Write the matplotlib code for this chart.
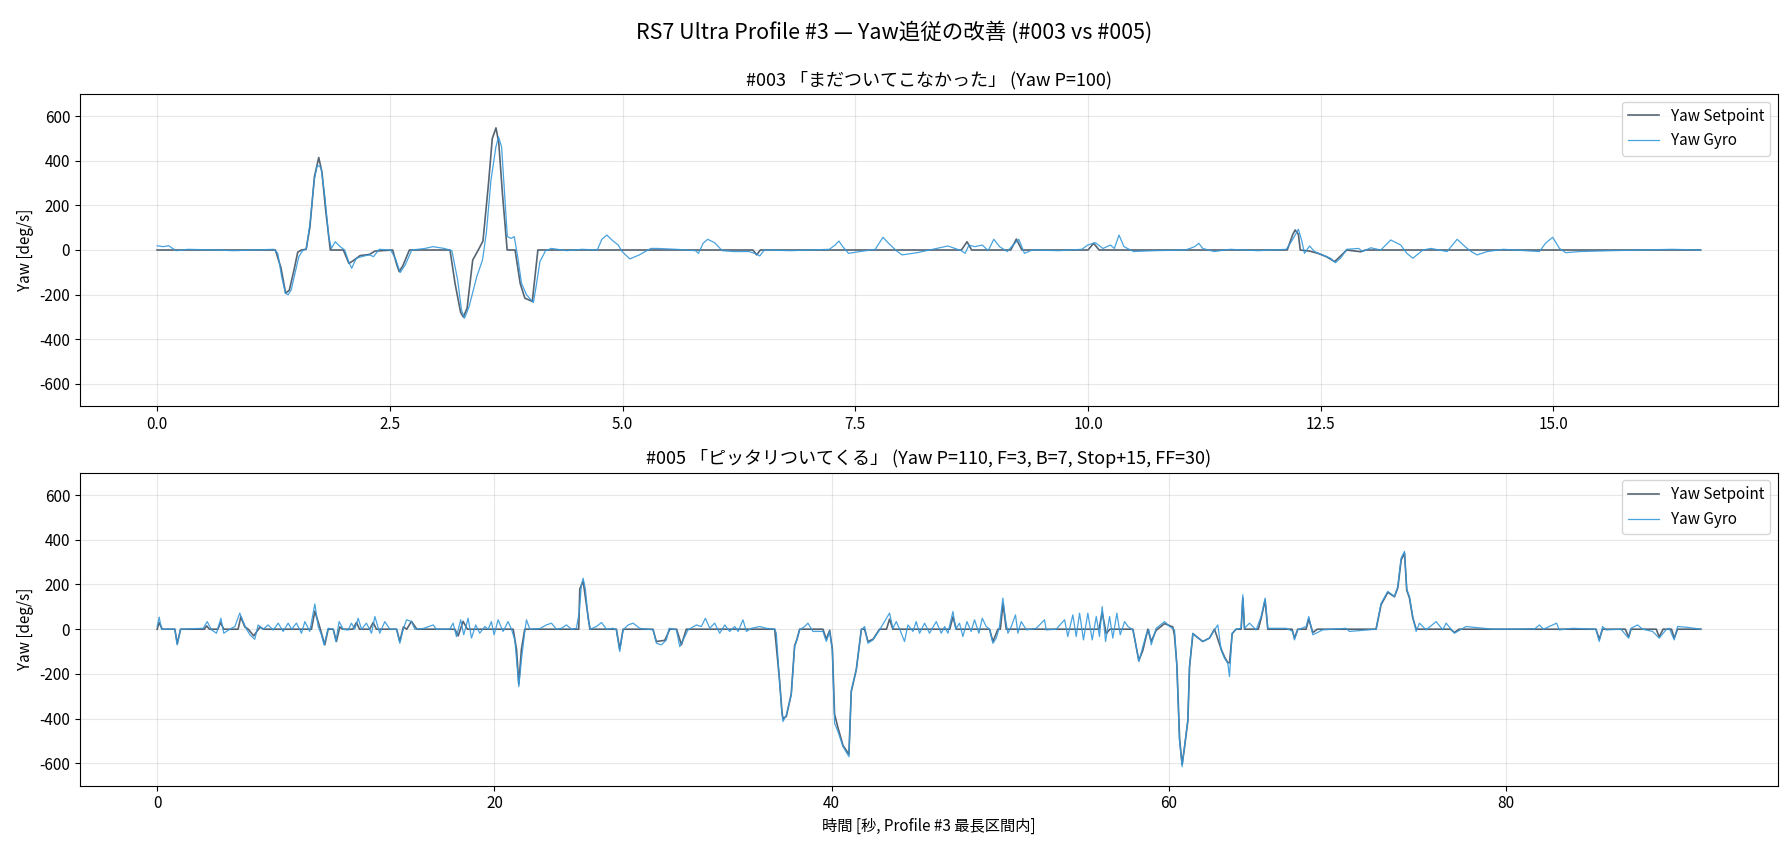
import matplotlib
matplotlib.use("Agg")
import matplotlib.pyplot as plt

plt.rcParams['font.family'] = ['Noto Sans CJK JP', 'DejaVu Sans']
plt.rcParams['axes.unicode_minus'] = False

# ---------------- #003 (top) ----------------
top_sp_t = [0.0, 1.27, 1.33, 1.38, 1.42, 1.47, 1.51, 1.55, 1.6, 1.64, 1.69, 1.736, 1.77, 1.81, 1.86,
            2.0, 2.04, 2.06, 2.1, 2.18, 2.28, 2.34, 2.53, 2.57, 2.6, 2.64, 2.71, 3.146, 3.2, 3.26,
            3.29, 3.33, 3.39, 3.45, 3.5, 3.56, 3.60, 3.64, 3.67, 3.71, 3.76, 3.845, 3.9, 3.95,
            4.03, 4.09, 6.40, 6.44, 6.48, 8.64, 8.70, 8.75, 9.17, 9.23, 9.29, 10.0, 10.06, 10.12,
            12.14, 12.2, 12.225, 12.26, 12.28, 12.38, 12.47, 12.56, 12.65, 12.78, 12.93, 12.98, 16.58]
top_sp_v = [0, 0, -80, -194, -180, -90, -10, 0, 3, 100, 330, 415, 350, 180, 0,
            0, -40, -60, -50, -25, -20, -5, 0, -60, -97, -70, 0, 0, -150, -280,
            -301, -260, -45, 0, 40, 300, 500, 548, 480, 250, 0, 0, -150, -216,
            -231, 0, 0, -22, 0, 0, 37, 0, 0, 49, 0, 0, 30, 0,
            0, 70, 90, 70, 0, -5, -15, -30, -52, 0, -8, 0, 0]

top_gy_t = [0.0, 0.063, 0.125, 0.166, 0.207, 0.33, 0.618, 0.824, 1.029, 1.255, 1.296, 1.337, 1.378,
            1.407, 1.44, 1.481, 1.522, 1.563, 1.604, 1.646, 1.687, 1.72, 1.76, 1.802, 1.843, 1.872,
            1.913, 1.966, 2.015, 2.057, 2.09, 2.139, 2.221, 2.283, 2.324, 2.385, 2.509, 2.558, 2.611,
            2.665, 2.735, 2.879, 2.961, 3.084, 3.166, 3.228, 3.269, 3.302, 3.351, 3.434, 3.495, 3.536,
            3.586, 3.639, 3.668, 3.7, 3.734, 3.762, 3.803, 3.836, 3.873, 3.914, 3.968, 4.042, 4.071,
            4.112, 4.173, 4.235, 4.4, 4.564, 4.728, 4.777, 4.831, 4.893, 4.954, 4.995, 5.078, 5.18,
            5.303, 5.372, 5.577, 5.783, 5.815, 5.865, 5.914, 5.988, 6.07, 6.194, 6.358, 6.44, 6.473,
            6.522, 6.81, 7.221, 7.283, 7.324, 7.365, 7.427, 7.55, 7.714, 7.797, 7.858, 7.94, 8.002,
            8.166, 8.331, 8.495, 8.639, 8.68, 8.721, 8.783, 8.865, 8.927, 8.988, 9.05, 9.132, 9.194,
            9.256, 9.317, 9.4, 9.687, 9.934, 9.995, 10.078, 10.16, 10.242, 10.283, 10.333, 10.386,
            10.489, 10.715, 11.044, 11.095, 11.146, 11.19, 11.233, 11.354, 11.526, 11.828, 12.13,
            12.195, 12.26, 12.294, 12.325, 12.38, 12.433, 12.519, 12.605, 12.657, 12.713, 12.778,
            12.907, 12.95, 13.037, 13.145, 13.252, 13.36, 13.425, 13.49, 13.598, 13.684, 13.857,
            13.965, 14.051, 14.116, 14.18, 14.288, 14.461, 14.85, 14.914, 14.992, 15.065, 15.13,
            15.281, 15.626, 15.971, 16.274, 16.584]
top_gy_v = [19, 15, 19, 7, -3, 3, 0, -3, 0, 3, -15, -119, -194,
            -201, -179, -104, -30, -3, 7, 134, 313, 381, 370, 239, 60, 7,
            37, 15, 0, -52, -82, -37, -27, -22, -30, 3, 0, -37, -101,
            -67, 0, 7, 15, 7, -3, -134, -269, -306, -254, -119, -45, 75,
            313, 463, 507, 463, 239, 60, 52, 60, -30, -149, -201, -236, -164,
            -52, -3, 7, -3, 3, 0, 48, 67, 42, 22, -7, -40, -22,
            7, 7, 3, -3, -15, 30, 48, 33, -3, -7, -7, -18, -27,
            0, -3, 3, 22, 40, 15, -15, -7, 3, 57, 30, -3, -22,
            -12, 3, 18, -3, -15, 22, 15, 22, -3, 48, 15, -7, 22,
            48, -15, 0, -3, 3, 22, 33, 7, 22, 7, 67, 15,
            -7, -3, 0, 7, 15, 30, 7, -7, 3, -3, 3,
            45, 93, 45, -15, 18, -7, -22, -37, -57, -37, 3,
            7, -7, 10, 0, 45, 22, -15, -37, 0, 7, -7,
            48, 15, -7, -22, -7, 3, -7, 30, 57, 7, -12,
            -7, -3, 0, 3, 0]

# ---------------- #005 (bottom) ----------------
bot_sp_t = [0, 0.12, 0.3, 1.05, 1.19, 1.39, 2.8, 2.93, 3.1, 3.6, 3.76, 3.95, 4.8, 4.96, 5.2, 5.4,
            5.73, 6.1, 6.3, 9.15, 9.35, 9.6, 9.94, 10.14, 10.44, 10.63, 10.83, 11.0, 11.6, 11.82,
            12.0, 12.6, 12.81, 13.0, 14.2, 14.39, 14.6, 14.8, 15.08, 15.4, 17.65, 17.85, 18.14,
            18.4, 21.11, 21.31, 21.445, 21.6, 21.8, 25.0, 25.062, 25.26, 25.42, 25.66, 27.23,
            27.43, 27.63, 29.4, 29.6, 30.1, 30.4, 30.8, 31.09, 31.38, 36.62, 36.91, 37.05, 37.11,
            37.31, 37.6, 37.8, 37.94, 38.1, 39.48, 39.68, 39.88, 40.04, 40.17, 40.37, 40.67, 41.02,
            41.16, 41.46, 41.76, 41.95, 42.15, 42.45, 42.84, 43.25, 43.43, 43.63, 47.0, 47.19,
            47.39, 49.36, 49.56, 49.86, 50.0, 50.16, 50.35, 55.85, 56.04, 56.28, 56.5, 57.86,
            58.21, 58.45, 58.75, 58.95, 59.24, 59.74, 60.23, 60.33, 60.47, 60.63, 60.78, 60.92,
            61.12, 61.22, 61.42, 62.0, 62.4, 62.7, 63.1, 63.3, 63.49, 63.59, 63.75, 63.98, 64.28,
            64.38, 64.48, 65.3, 65.47, 65.7, 65.86, 67.3, 67.44, 67.64, 68.13, 68.29, 68.53, 68.8,
            72.28, 72.58, 72.98, 73.37, 73.57, 73.77, 73.97, 74.1, 74.26, 74.46, 74.66, 76.7,
            76.93, 77.2, 85.32, 85.52, 85.71, 87.06, 87.26, 87.4, 88.9, 89.07, 89.3, 89.8, 89.96,
            90.16, 91.54]
bot_sp_v = [0, 30, 0, 0, -65, 0, 0, 15, 0, 0, 30, 0, 0, 55, 10, 0,
            -30, 10, 0, 0, 80, 20, -70, 0, 0, -55, 10, 0, 0, 30,
            0, 0, 30, 0, 0, -55, 10, 0, 35, 0, 0, -30, 35,
            0, 0, -90, -245, -90, 0, 0, 180, 215, 130, 0, 0,
            -90, 0, 0, -55, -50, 0, 0, -70, 0, 0, -230, -370, -400,
            -390, -290, -75, -45, 0, 0, -45, -5, -90, -380, -440, -520, -560,
            -280, -180, 0, 0, -55, -45, 0, 0, 45, 0, 0, 55,
            0, 0, -55, 0, 0, 115, 0, 0, 75, -20, 0, 0,
            -140, -95, 0, -55, -5, 25, 10, -30, -160, -490, -605, -530,
            -410, -170, -20, -55, -40, 0, -90, -125, -150, -150, -20, 0, 0,
            140, 0, 0, 50, 130, 0, 0, -40, 0, 0, 45, -15, 0,
            0, 110, 165, 145, 185, 310, 340, 175, 140, 50, 0, 0,
            -15, 0, 0, -45, 0, 0, -35, 0, 0, -35, 0, 0, -40,
            0, 0]

bot_gy_t = [0.0, 0.12, 0.26, 1.05, 1.19, 1.39, 2.73, 2.97, 3.22, 3.52, 3.78, 3.95, 4.31, 4.61, 4.9,
            5.1, 5.3, 5.5, 5.79, 5.99, 6.29, 6.58, 6.88, 7.18, 7.47, 7.77, 7.97, 8.26, 8.56, 8.76,
            9.05, 9.35, 9.55, 9.74, 9.9, 10.14, 10.44, 10.6, 10.79, 11.03, 11.33, 11.52, 11.72,
            11.92, 12.12, 12.41, 12.71, 12.91, 13.2, 13.5, 13.8, 14.19, 14.39, 14.59, 14.79, 15.08,
            15.28, 15.77, 16.37, 16.56, 17.35,
            17.55, 17.75, 18.0, 18.18, 18.44, 18.64, 18.89, 19.13, 19.43, 19.63, 19.82, 19.98, 20.22,
            20.51, 20.81, 21.01, 21.21, 21.4, 21.445, 21.6, 21.8, 21.9, 22.1, 22.69, 23.08, 23.38,
            23.68, 23.97, 24.27, 24.57, 24.86, 25.02, 25.16, 25.26, 25.4, 25.55, 25.69, 26.05, 26.35,
            26.64, 27.04, 27.23, 27.43, 27.63, 27.93, 28.22, 28.62, 29.41, 29.61, 29.9, 30.2, 30.36,
            30.79, 30.99, 31.29, 31.48, 31.98, 32.27, 32.51, 32.77, 33.06, 33.36, 33.66, 33.95,
            34.25, 34.45, 34.74, 34.94, 35.24, 35.73, 36.13,
            36.621, 36.716, 36.914, 37.052, 37.111, 37.309, 37.605, 37.803, 37.941, 38.099, 38.396,
            38.593, 38.89, 39.483, 39.68, 39.878, 40.036, 40.174, 40.372, 40.668, 41.024, 41.162,
            41.459, 41.755, 41.953, 42.15, 42.447,
            42.84, 43.43, 43.63, 43.83, 44.03, 44.32, 44.52, 44.82, 45.01, 45.21, 45.51, 45.8, 46.2,
            46.5, 46.7, 46.89, 47.19, 47.35, 47.58, 47.78, 48.02, 48.27, 48.47, 48.73, 48.93, 49.16,
            49.36, 49.56, 49.76, 49.95, 50.15, 50.31, 50.45, 50.65, 50.9, 51.04, 51.24, 51.54, 52.13,
            52.62, 52.72, 53.31, 53.81, 54.0, 54.3, 54.5, 54.7, 54.93, 55.19, 55.45, 55.69, 55.88,
            56.04, 56.24, 56.48, 56.67, 56.91, 57.11, 57.37, 57.57, 57.86, 58.06, 58.22, 58.45,
            58.65, 58.81, 58.95, 59.24, 59.74, 60.04, 60.33,
            60.466, 60.625, 60.783, 60.921, 61.119, 61.217, 61.415, 61.613, 62.008, 62.403, 62.7,
            62.897, 63.095, 63.293, 63.49, 63.589, 63.747, 63.984, 64.281, 64.38, 64.479, 64.775,
            65.17, 65.467, 65.704, 65.862, 66.949, 67.344, 67.443, 67.64, 68.134, 68.292, 68.53,
            69.123, 70.506, 70.704, 72.285, 72.581, 72.976, 73.372, 73.569, 73.767, 73.965, 74.103,
            74.261, 74.459, 74.657, 74.854, 75.25, 75.842, 76.237, 76.435, 76.929, 77.621, 79.202,
            80.5, 81.7, 81.969, 82.2, 82.987, 83.145, 83.935, 85.318, 85.516, 85.714, 85.912, 86.8,
            87.255, 87.394, 87.789, 88.086, 88.679, 89.074, 89.469, 89.667, 89.963, 90.161, 90.655,
            91.544]
bot_gy_v = [12, 54, 0, 0, -70, 0, 4, 34, -3, -18, 49, -18, 0, 12, 72,
            34, 0, -25, -45, 19, 0, 19, -4, 27, -10, 27, 0, 27, -18, 34,
            -10, 113, 12, -25, -70, 4, 0, -55, 34, 0, -4, 27, 0,
            49, 0, 27, -18, 57, -18, 34, 0, 0, -63, 0, 42, 34,
            0, 3, 19, 0, 0,
            27, -33, 42, -25, 49, -40, 19, -18, 12, 0, 34, -25, 42,
            -10, 34, 0, -48, -212, -257, -137, -10, 42, 0, 3, 19, 27,
            0, 4, 19, 0, 4, 72, 198, 228, 176, 49, 0, 12, 30,
            0, 4, -3, -100, -3, 19, 27, 4, -3, -63, -70, -48, 4,
            -3, -78, -33, -3, 19, 12, 49, 4, 27, -18, 19, -10,
            12, -10, 42, -10, 4, 12, 4,
            0, -18, -242, -376, -413, -384, -294, -78, -48, -3, 12,
            27, -10, -10, -55, -10, -93, -421, -458, -525, -570, -272,
            -182, -3, 12, -63, -48,
            -3, 72, 4, 34, 0, -55, 19, -10, 34, -18, 27, -18, 34,
            -18, 12, -18, 79, 0, 27, -33, 34, -10, 42, -18, 49, 12,
            0, -63, -40, 12, 139, 42, -18, 12, 64, -18, 34, -3, 4,
            42, -3, 0, 42, -33, 64, -33, 72, -48, 72, -48, 57, -33,
            101, -55, 57, -40, 72, -25, 34, 12, -3, -78, -145, -78,
            -25, -3, -70, 4, 34, 12, -3,
            -167, -496, -615, -525, -406, -167, -18, -33, -55, -40, -3,
            19, -93, -130, -152, -212, -18, 0, 4, 154, 4, 27,
            -3, 57, 139, 4, 4, -10, -48, -3, 12, 57, -25,
            -3, 4, -10, 0, 116, 169, 146, 191, 318, 348, 179,
            146, 57, -10, 27, -3, 34, -3, 27, -18, 12, 0,
            0, 2, 19, 0, 27, -3, 4, 0, -55, 12, -3, 0,
            -40, 4, 19, 0, -10, -40, -3, 4, -48, 12, 9,
            0]

SP_COLOR = '#2c3e50'
GY_COLOR = '#3498db'

fig = plt.figure(figsize=(17.89, 8.47), dpi=100)
ax1 = fig.add_axes([0.0447, 0.5207, 0.9492, 0.3683])
ax2 = fig.add_axes([0.0447, 0.0724, 0.9492, 0.3695])

panels = [
    (ax1, top_sp_t, top_sp_v, top_gy_t, top_gy_v,
     '#003 「まだついてこなかった」 (Yaw P=100)'),
    (ax2, bot_sp_t, bot_sp_v, bot_gy_t, bot_gy_v,
     '#005 「ピッタリついてくる」 (Yaw P=110, F=3, B=7, Stop+15, FF=30)'),
]
for ax, st, sv, gt, gv, title in panels:
    ax.plot(st, sv, color=SP_COLOR, lw=1.2, alpha=0.8, label='Yaw Setpoint')
    ax.plot(gt, gv, color=GY_COLOR, lw=0.9, alpha=0.9, label='Yaw Gyro')
    ax.set_ylim(-700, 700)
    ax.set_yticks([-600, -400, -200, 0, 200, 400, 600])
    ax.set_ylabel('Yaw [deg/s]', fontsize=11)
    ax.set_title(title, fontsize=13)
    ax.grid(True, alpha=0.3)
    ax.legend(loc='upper right', fontsize=11)
    ax.tick_params(labelsize=11)

ax2.set_xticks([0, 20, 40, 60, 80])
ax2.set_xlabel('時間 [秒, Profile #3 最長区間内]', fontsize=11)
fig.suptitle('RS7 Ultra Profile #3 — Yaw追従の改善 (#003 vs #005)', fontsize=15.5, y=0.975)

fig.savefig('out.png', dpi=100)
